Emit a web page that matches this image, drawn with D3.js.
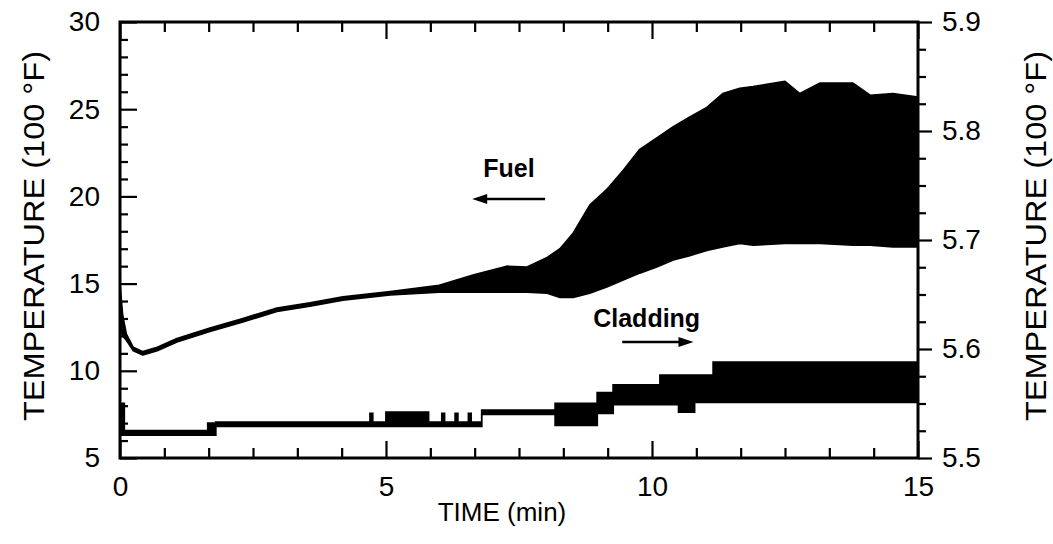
<!DOCTYPE html>
<html>
<head>
<meta charset="utf-8">
<script src="https://cdn.jsdelivr.net/npm/d3@7"></script>
<style>
  html, body { margin: 0; padding: 0; background: #fff; }
  svg { display: block; }
  text { font-family: "Liberation Sans", Arial, Helvetica, sans-serif; fill: #000; }
</style>
</head>
<body>
<svg id="chart" width="1053" height="544"></svg>
<script>
// ---------- data ----------
// Fuel temperature envelope (left axis, 100 °F) vs time (min)
const fuelTime = [0, 0.05, 0.12, 0.25, 0.43, 0.7, 1.07, 1.69, 2.31, 2.95, 3.57, 4.19, 5.08, 6.0, 6.65, 7.27, 7.65, 8.03, 8.27, 8.52, 8.83, 9.15, 9.46, 9.77, 10.09, 10.4, 10.71, 11.03, 11.33, 11.65, 11.9, 12.5, 12.78, 13.16, 13.78, 14.1, 14.53, 15.0];
const fuelLow  = [12.5, 12.0, 11.75, 11.15, 10.9, 11.15, 11.65, 12.25, 12.8, 13.4, 13.7, 14.05, 14.35, 14.5, 14.5, 14.5, 14.5, 14.45, 14.2, 14.2, 14.45, 14.8, 15.2, 15.6, 15.95, 16.35, 16.6, 16.9, 17.1, 17.3, 17.2, 17.3, 17.3, 17.3, 17.2, 17.2, 17.1, 17.1];
const fuelHigh = [15.0, 13.2, 12.1, 11.35, 11.1, 11.35, 11.85, 12.45, 13.0, 13.6, 13.9, 14.25, 14.55, 14.9, 15.5, 16.0, 15.95, 16.5, 17.0, 17.9, 19.5, 20.4, 21.5, 22.7, 23.35, 24.0, 24.55, 25.1, 25.9, 26.2, 26.3, 26.6, 25.9, 26.5, 26.5, 25.8, 25.9, 25.7];

// Cladding temperature envelope (right axis, 100 °F), stepwise levels
const cladTime = [0, 0.08, 1.65, 1.8, 4.7, 4.75, 5.0, 5.8, 6.05, 6.1, 6.3, 6.35, 6.55, 6.6, 6.8, 8.18, 8.97, 9.27, 10.15, 10.5, 10.8, 11.15, 15.0];
const cladLow  = [5.521, 5.521, 5.521, 5.529, 5.529, 5.529, 5.529, 5.529, 5.529, 5.529, 5.529, 5.529, 5.529, 5.529, 5.540, 5.530, 5.541, 5.549, 5.549, 5.542, 5.551, 5.551, 5.549];
const cladHigh = [5.550, 5.525, 5.532, 5.533, 5.541, 5.533, 5.542, 5.533, 5.541, 5.533, 5.541, 5.533, 5.541, 5.533, 5.544, 5.550, 5.560, 5.567, 5.576, 5.576, 5.576, 5.588, 5.588];

// Axes
const xMajorTicks = [0, 5, 10, 15];
const xMinorPerMajor = 6;            // minor ticks every 5/6 min
const yLeftTicks = [5, 10, 15, 20, 25, 30];
const yLeftMinorStep = 1;
const yRightTicks = [5.5, 5.6, 5.7, 5.8, 5.9];
const yRightMinorStep = 0.025;

const xLabel = "TIME (min)";
const yLabel = "TEMPERATURE (100 °F)";

// Annotations: [text, time, value]
const fuelNote = ["Fuel", 7.31, 21.1];
const fuelArrow = [7.99, 6.62, 19.85];     // from t, to t, at left-axis value
const cladNote = ["Cladding", 9.9, 5.6205];
const cladArrow = [9.44, 10.78, 5.6064];   // from t, to t, at right-axis value

// ---------- drawing ----------
const svg = d3.select("#chart");
const L = 120, R = 918, T = 22, B = 458;

const x = d3.scaleLinear().domain([0, 15]).range([L, R]);
const yL = d3.scaleLinear().domain([5, 30]).range([B, T]);
const yR = d3.scaleLinear().domain([5.5, 5.9]).range([B, T]);

const xMinor = d3.range(0, 15 + 1e-9, 5 / xMinorPerMajor).filter(v => !xMajorTicks.some(m => Math.abs(m - v) < 1e-6));
const yLMinor = d3.range(5, 30 + 1e-9, yLeftMinorStep).filter(v => !yLeftTicks.includes(v));
const yRMinor = d3.range(5.5, 5.9 + 1e-9, yRightMinorStep).filter(v => !yRightTicks.some(m => Math.abs(m - v) < 1e-6));

// Fuel band
const fuelData = fuelTime.map((t, i) => ({t, lo: fuelLow[i], hi: fuelHigh[i]}));
svg.append("path")
  .datum(fuelData)
  .attr("d", d3.area().x(d => x(d.t)).y0(d => yL(d.lo)).y1(d => yL(d.hi)).curve(d3.curveLinear))
  .attr("fill", "#000").attr("stroke", "#000").attr("stroke-width", 1.6).attr("stroke-linejoin", "round");

// Cladding band
const cladData = cladTime.map((t, i) => ({t, lo: cladLow[i], hi: cladHigh[i]}));
svg.append("path")
  .datum(cladData)
  .attr("d", d3.area().x(d => x(d.t)).y0(d => yR(d.lo)).y1(d => yR(d.hi)).curve(d3.curveStepAfter))
  .attr("fill", "#000").attr("stroke", "#000").attr("stroke-width", 1.8);

// Axes
function styleAxis(g, fontSize) {
  g.select(".domain").remove();
  g.selectAll(".tick line").attr("stroke", "#000").attr("stroke-width", 2.2);
  g.selectAll("text").attr("font-size", fontSize).attr("fill", "#000")
    .attr("font-family", '"Liberation Sans", Arial, Helvetica, sans-serif');
}

// left
svg.append("g").attr("transform", `translate(${L},0)`)
  .call(d3.axisLeft(yL).tickValues(yLeftTicks).tickSize(-17).tickPadding(20).tickFormat(d3.format("d")))
  .call(g => styleAxis(g, 28));
svg.append("g").attr("transform", `translate(${L},0)`)
  .call(d3.axisLeft(yL).tickValues(yLMinor).tickSize(-8).tickFormat(""))
  .call(g => styleAxis(g, 28));
// right
svg.append("g").attr("transform", `translate(${R},0)`)
  .call(d3.axisRight(yR).tickValues(yRightTicks).tickSize(14).tickPadding(10).tickFormat(d3.format(".1f")))
  .call(g => styleAxis(g, 28));
svg.append("g").attr("transform", `translate(${R},0)`)
  .call(d3.axisRight(yR).tickValues(yRMinor).tickSize(8).tickFormat(""))
  .call(g => styleAxis(g, 28));
// bottom
svg.append("g").attr("transform", `translate(0,${B})`)
  .call(d3.axisBottom(x).tickValues(xMajorTicks).tickSize(-17).tickPadding(18).tickFormat(d3.format("d")))
  .call(g => styleAxis(g, 28));
svg.append("g").attr("transform", `translate(0,${B})`)
  .call(d3.axisBottom(x).tickValues(xMinor).tickSize(-10).tickFormat(""))
  .call(g => styleAxis(g, 28));
// top
svg.append("g").attr("transform", `translate(0,${T})`)
  .call(d3.axisTop(x).tickValues(xMajorTicks).tickSize(-17).tickFormat(""))
  .call(g => styleAxis(g, 28));
svg.append("g").attr("transform", `translate(0,${T})`)
  .call(d3.axisTop(x).tickValues(xMinor).tickSize(-10).tickFormat(""))
  .call(g => styleAxis(g, 28));

// frame
svg.append("rect").attr("x", L).attr("y", T).attr("width", R - L).attr("height", B - T)
  .attr("fill", "none").attr("stroke", "#000").attr("stroke-width", 3);

// axis titles
svg.append("text").attr("x", 502).attr("y", 521)
  .attr("text-anchor", "middle").attr("font-size", 26).text(xLabel);
svg.append("text").attr("transform", `translate(44,236) rotate(-90)`)
  .attr("text-anchor", "middle").attr("font-size", 30)
  .attr("textLength", 370).attr("lengthAdjust", "spacingAndGlyphs").text(yLabel);
svg.append("text").attr("transform", `translate(1046,236) rotate(-90)`)
  .attr("text-anchor", "middle").attr("font-size", 30)
  .attr("textLength", 370).attr("lengthAdjust", "spacingAndGlyphs").text(yLabel);

// annotations
function arrow(x1, x2, yy) {
  const dir = Math.sign(x2 - x1);
  svg.append("line").attr("x1", x1).attr("x2", x2 - dir * 10).attr("y1", yy).attr("y2", yy)
    .attr("stroke", "#000").attr("stroke-width", 2.5);
  svg.append("path")
    .attr("d", `M${x2},${yy} L${x2 - dir * 15},${yy - 5} L${x2 - dir * 15},${yy + 5} Z`)
    .attr("fill", "#000");
}
svg.append("text").attr("x", x(fuelNote[1])).attr("y", yL(fuelNote[2]))
  .attr("text-anchor", "middle").attr("font-size", 25).attr("font-weight", "bold").text(fuelNote[0]);
arrow(x(fuelArrow[0]), x(fuelArrow[1]), yL(fuelArrow[2]));
svg.append("text").attr("x", x(cladNote[1])).attr("y", yR(cladNote[2]))
  .attr("text-anchor", "middle").attr("font-size", 25).attr("font-weight", "bold").text(cladNote[0]);
arrow(x(cladArrow[0]), x(cladArrow[1]), yR(cladArrow[2]));
</script>
</body>
</html>
